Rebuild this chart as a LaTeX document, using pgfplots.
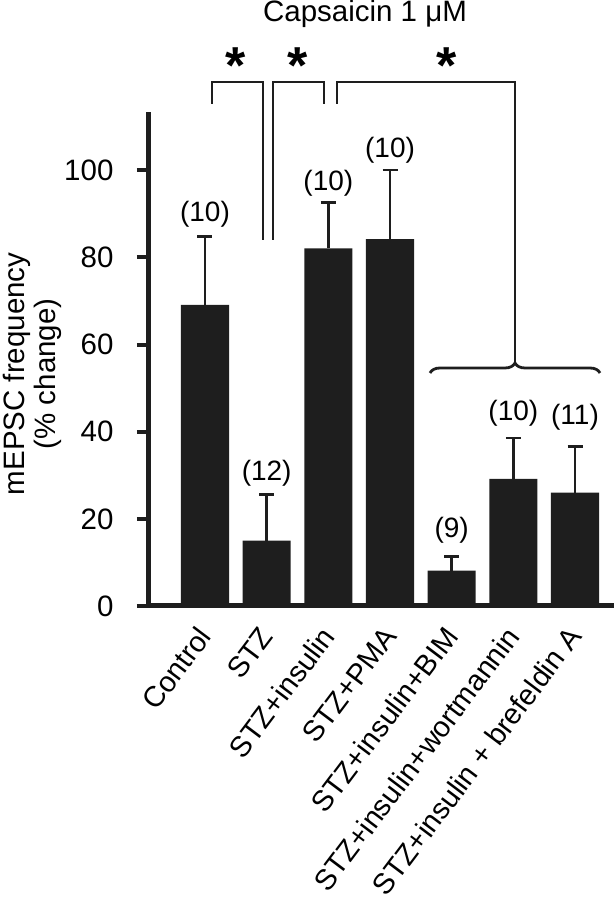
\documentclass[border=0pt]{standalone}
\usepackage{fontspec}
\setmainfont{Liberation Sans}
\usepackage{pgfplots}
\pgfplotsset{compat=1.18}
\usetikzlibrary{decorations.pathreplacing}
\definecolor{barc}{HTML}{1E1E1E}
\begin{document}
\begin{tikzpicture}
\path[use as bounding box] (0,0) rectangle (614pt,899pt);
\begin{axis}[
 at={(149pt,293pt)}, anchor=south west,
 scale only axis, width=465pt, height=494pt,
 xmin=-0.908, xmax=6.632, ymin=0, ymax=113.4,
 axis lines*=left,
 axis line style={line width=5pt, color=barc},
 ytick={0,20,...,100},
 xtick={0,...,6},
 xticklabels={Control, STZ, STZ+insulin, STZ+PMA, STZ+insulin+BIM, STZ+insulin+wortmannin, STZ+insulin + brefeldin A},
 x tick style={draw=none},
 y tick style={line width=4pt, color=barc},
 tick align=outside, major tick length=12pt,
 tick label style={font=\fontsize{29.5}{34}\selectfont},
 /pgf/number format/assume math mode=true,
 yticklabel style={xshift=-20pt},
 xticklabel style={font=\fontsize{29}{34}\selectfont, inner sep=0pt, xshift=8pt, yshift=-19pt, rotate=53, anchor=base east},
 ylabel={mEPSC frequency\\(\% change)},
 ylabel style={align=center, font=\fontsize{29.5}{31}\selectfont, at={(rel axis cs:-0.2516,0.47)}, anchor=center},
 clip=false,
]
\addplot[ybar, bar width=0.78, fill=barc, draw=none,
  error bars/.cd, y dir=plus, y explicit,
  error bar style={line width=2.6pt, color=barc},
  error mark options={rotate=90, mark size=7.5pt, line width=2.6pt, color=barc}]
 coordinates {
 (0,69.1) +- (0,15.7)
 (1,15.0) +- (0,10.6)
 (2,82.1) +- (0,10.5)
 (3,84.2) +- (0,15.9)
 (4,8.1) +- (0,3.2)
 (5,29.2) +- (0,9.4)
 (6,26.0) +- (0,10.6)
 };
\begin{scope}[every node/.style={font=\fontsize{28}{30}\selectfont}]
\node at (axis cs:0,90.0) {(10)};
\node at (axis cs:1,30.5) {(12)};
\node at (axis cs:2,97.1) {(10)};
\node at (axis cs:3,104.7) {(10)};
\node at (axis cs:4,17.5) {(9)};
\node at (axis cs:5,44.3) {(10)};
\node at (axis cs:6,43.4) {(11)};
\end{scope}
\end{axis}
\begin{scope}[line width=2.8pt, color=barc, line join=miter]
\draw (212pt,795pt)--(212pt,817pt)--(263pt,817pt)--(263pt,659pt);
\draw (273pt,659pt)--(273pt,817pt)--(324pt,817pt)--(324pt,795pt);
\draw (337pt,795pt)--(337pt,817pt)--(515pt,817pt)--(515pt,536pt);
\draw[decorate, decoration={brace, amplitude=10pt}] (430pt,526pt)--(600pt,526pt);
\end{scope}
\node[anchor=base, font=\fontsize{52}{52}\selectfont\bfseries] at (236pt,815pt) {*};
\node[anchor=base, font=\fontsize{52}{52}\selectfont\bfseries] at (298pt,815pt) {*};
\node[anchor=base, font=\fontsize{52}{52}\selectfont\bfseries] at (447pt,815pt) {*};
\node[anchor=base, font=\fontsize{29.5}{31}\selectfont] at (365pt,877pt) {Capsaicin 1 μM};
\end{tikzpicture}
\end{document}
